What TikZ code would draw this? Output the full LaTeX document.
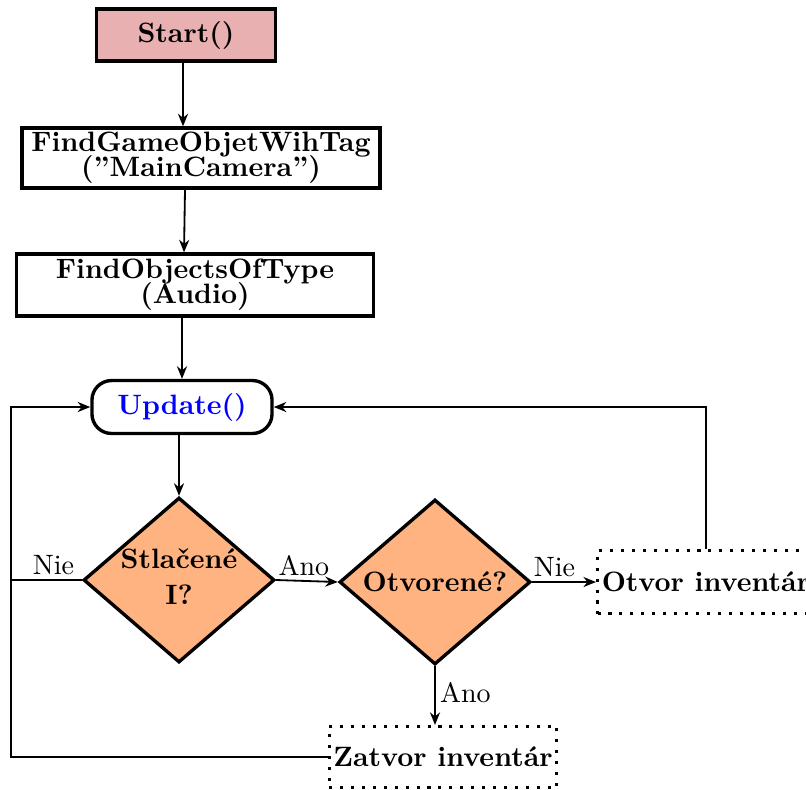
\documentclass[tikz,border=0pt]{standalone}
\usetikzlibrary{shapes.geometric,arrows.meta}
\definecolor{startpink}{RGB}{232,176,176}
\definecolor{decorange}{RGB}{255,179,128}
\begin{document}
\begin{tikzpicture}[x=0.357pt,y=-0.357pt,
  box/.style={draw,line width=1.2pt,font=\bfseries,align=center,inner sep=0pt},
  dotbox/.style={draw,line width=1.1pt,dash pattern=on 1.1pt off 2.8pt,font=\bfseries,inner sep=1.5pt},
  dec/.style={draw,diamond,aspect=1.16,line width=1.2pt,fill=decorange,font=\bfseries,align=center,inner sep=0pt,minimum width=68.2pt,minimum height=58.9pt},
  arr/.style={draw,line width=0.65pt,-{Stealth[length=4.5pt,width=3.6pt]}},
  conn/.style={draw,line width=0.65pt},
  lbl/.style={font=\normalfont,inner sep=1.5pt}]
\useasboundingbox (0,0) rectangle (806,789);
\node[box,fill=startpink,minimum width=63.9pt,minimum height=18.6pt] (start) at (186,35) {Start()};
\node[box,minimum width=127.8pt,minimum height=21.4pt] (fgo) at (201,158) {FindGameObjetWihTag\\[-3pt](''MainCamera'')};
\node[box,minimum width=127.5pt,minimum height=22.1pt] (fot) at (195,285) {FindObjectsOfType\\[-3pt](Audio)};
\node[box,rounded corners=7pt,minimum width=64.3pt,minimum height=18.9pt,text=blue] (upd) at (182,407) {Update()};
\node[dec] (d1) at (179,580) {\makebox[0pt]{\begin{tabular}{@{}c@{}}Stlačené\\[1pt]I?\end{tabular}}};
\node[dec] (d2) at (435,582) {\makebox[0pt]{Otvorené?}};
\node[dotbox,anchor=west,minimum height=22.5pt] (otv) at (596,582) {Otvor inventár};
\node[dotbox,minimum width=80pt,minimum height=21.8pt] (zat) at (443,757) {Zatvor inventár};
\coordinate (lc) at (11,757);
\draw[arr] (start.south -| 183,0) -- (fgo.north -| 183,0);
\draw[arr] (fgo.south -| 185,0) -- (fot.north -| 184,0);
\draw[arr] (fot.south -| upd) -- (upd.north);
\draw[arr] (upd.south -| d1) -- (d1.north);
\draw[arr] (d1.east) -- node[lbl,above,pos=0.45]{Ano} (d2.west);
\draw[arr] (d2.east) -- node[lbl,above,pos=0.35]{Nie} (otv.west);
\draw[arr] (otv.north) |- (upd.east);
\draw[arr] (d2.south) -- node[lbl,right,pos=0.45]{Ano} (d2.south |- zat.north);
\draw[arr] (zat.west) -- (zat.west -| lc) |- (upd.west);
\draw[conn] (d1.west) -- node[lbl,above,pos=0.4]{Nie} (d1.west -| lc);
\end{tikzpicture}
\end{document}
